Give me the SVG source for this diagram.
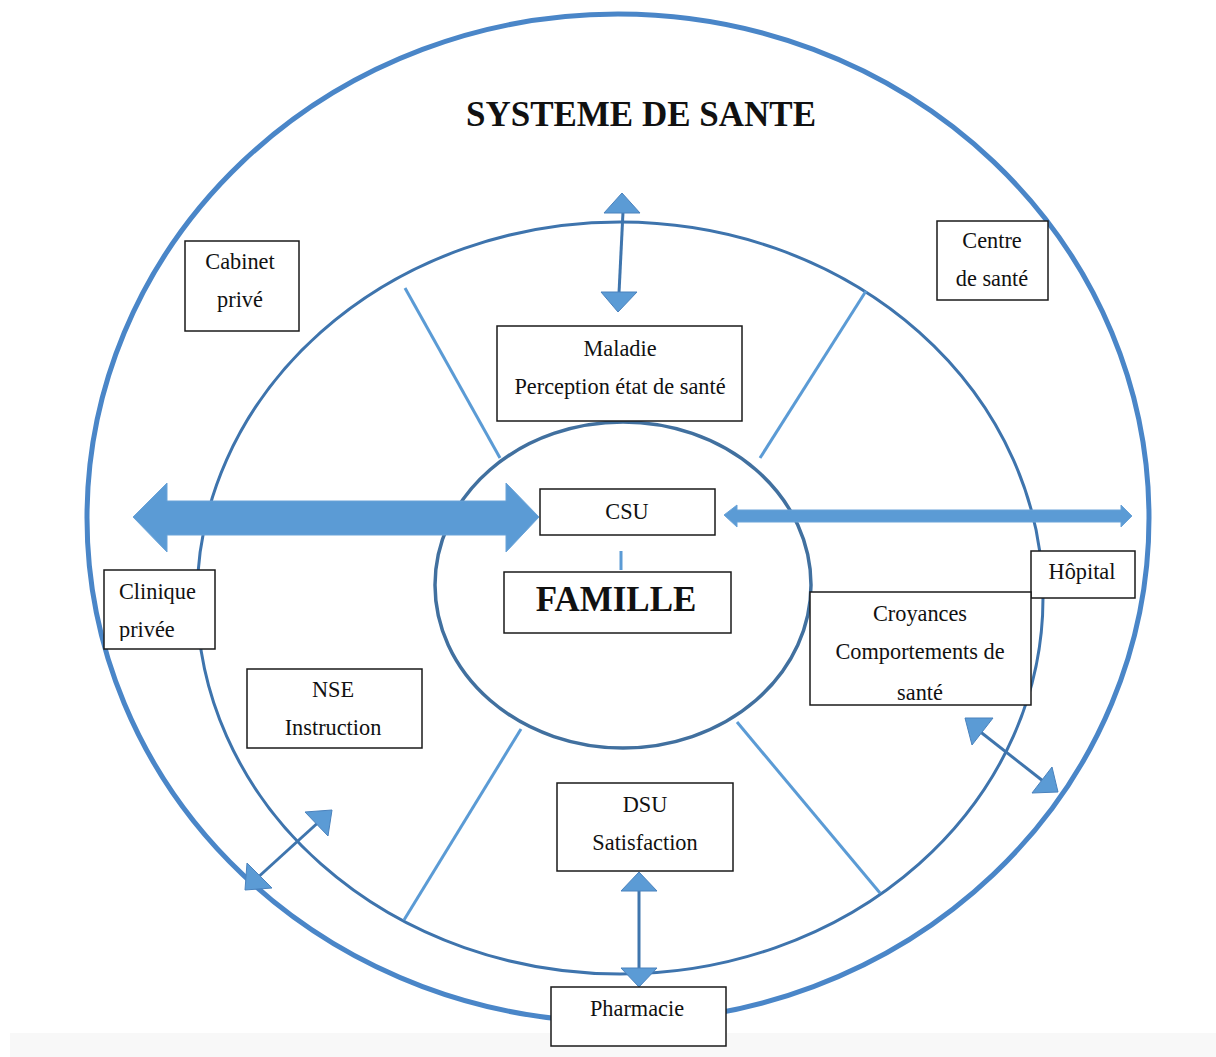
<svg xmlns="http://www.w3.org/2000/svg" width="1216" height="1057" viewBox="0 0 1216 1057">
<style>
.box{fill:#fff;stroke:#1a1a1a;stroke-width:1.5}
.t{font-family:"Liberation Serif","Times New Roman",serif;font-size:22.3px;fill:#111;text-anchor:middle}
.ts{font-family:"Liberation Serif","Times New Roman",serif;font-size:22.3px;fill:#111;text-anchor:start}
.spoke{stroke:#5b9bd5;stroke-width:3;fill:none}
.head{fill:#5b9bd5;stroke:#4a82bd;stroke-width:1}
.shaft{stroke:#3f75ad;stroke-width:3;fill:none}
</style>
<defs>
<clipPath id="cCroy"><rect x="811" y="593" width="219" height="107"/></clipPath>
<clipPath id="cClin"><rect x="105" y="571" width="109" height="70"/></clipPath>
</defs>
<rect x="0" y="0" width="1216" height="1057" fill="#fff"/>
<rect x="10" y="1033" width="1206" height="24" fill="#f8f8f8"/>
<g id="rings">
<ellipse cx="618" cy="518" rx="531" ry="504" fill="none" stroke="#4a86c8" stroke-width="5"/>
<ellipse cx="620" cy="598" rx="423" ry="376" fill="none" stroke="#3e74ad" stroke-width="3"/>
<ellipse cx="623" cy="585" rx="188" ry="163" fill="none" stroke="#41709f" stroke-width="3.5"/>
</g>
<text x="641" y="126" font-family="Liberation Serif,Times New Roman,serif" font-size="35" font-weight="bold" text-anchor="middle" fill="#111">SYSTEME DE SANTE</text>
<g id="connectors">
<line class="spoke" x1="405" y1="288" x2="500" y2="458"/>
<line class="spoke" x1="866" y1="291" x2="760" y2="458"/>
<line class="spoke" x1="521" y1="729" x2="404" y2="920"/>
<line class="spoke" x1="737" y1="722" x2="880" y2="893"/>
<line class="spoke" x1="621" y1="551" x2="621" y2="570"/>
<path d="M133,517 L167,483 L167,501 L506,501 L506,483 L539,517 L506,552 L506,535 L167,535 L167,552 Z" fill="#5b9bd5" stroke="#6aa3d8" stroke-width="1"/>
<path d="M724,515 L737,505 L737,510 L1121,510 L1121,505 L1132,516 L1121,527 L1121,522 L737,522 L737,527 Z" fill="#5b9bd5" stroke="#6aa3d8" stroke-width="1"/>
<line class="shaft" x1="623" y1="212" x2="619" y2="293"/>
<polygon class="head" points="622,193 640,213 604,213"/>
<polygon class="head" points="601,292 637,292 618,312"/>
<line class="shaft" x1="639" y1="890" x2="639" y2="969"/>
<polygon class="head" points="639,872 657,891 621,891"/>
<polygon class="head" points="621,968 657,968 639,987"/>
<line class="shaft" x1="255" y1="880" x2="322" y2="819"/>
<polygon class="head" points="305,812 332,810 328,836"/>
<polygon class="head" points="247,863 245,890 272,888"/>
<line class="shaft" x1="978" y1="730" x2="1043" y2="781"/>
<polygon class="head" points="965,718 993,718 972,745"/>
<polygon class="head" points="1052,767 1058,792 1032,793"/>
</g>
<g id="cabinet"><rect class="box" x="185" y="241" width="114" height="90"/><text class="t" x="240" y="269">Cabinet</text><text class="t" x="240" y="307">privé</text></g>
<g id="centre"><rect class="box" x="937" y="221" width="111" height="79"/><text class="t" x="992" y="248">Centre</text><text class="t" x="992" y="286">de santé</text></g>
<g id="maladie"><rect class="box" x="497" y="326" width="245" height="95"/><text class="t" x="620" y="356">Maladie</text><text class="t" x="620" y="394">Perception état de santé</text></g>
<g id="csu"><rect class="box" x="540" y="489" width="175" height="46"/><text class="t" x="627" y="519">CSU</text></g>
<g id="famille"><rect class="box" x="504" y="572" width="227" height="61"/><text x="616" y="611" font-family="Liberation Serif,Times New Roman,serif" font-size="35" font-weight="bold" text-anchor="middle" fill="#111">FAMILLE</text></g>
<g id="hopital"><rect class="box" x="1031" y="551" width="104" height="47"/><text class="t" x="1082" y="579">Hôpital</text></g>
<g id="croyances"><rect class="box" x="810" y="592" width="221" height="113"/><g clip-path="url(#cCroy)"><text class="t" x="920" y="700">santé</text><text class="t" x="920" y="621">Croyances</text><text class="t" x="920" y="659">Comportements de</text></g></g>
<g id="clinique"><rect class="box" x="104" y="570" width="111" height="79"/><g clip-path="url(#cClin)"><text class="ts" x="119" y="599">Clinique</text><text class="ts" x="119" y="637">privée</text></g></g>
<g id="nse"><rect class="box" x="247" y="669" width="175" height="79"/><text class="t" x="333" y="697">NSE</text><text class="t" x="333" y="735">Instruction</text></g>
<g id="dsu"><rect class="box" x="557" y="783" width="176" height="88"/><text class="t" x="645" y="812">DSU</text><text class="t" x="645" y="850">Satisfaction</text></g>
<g id="pharmacie"><rect class="box" x="551" y="987" width="175" height="59"/><text class="t" x="637" y="1016">Pharmacie</text></g>
</svg>
